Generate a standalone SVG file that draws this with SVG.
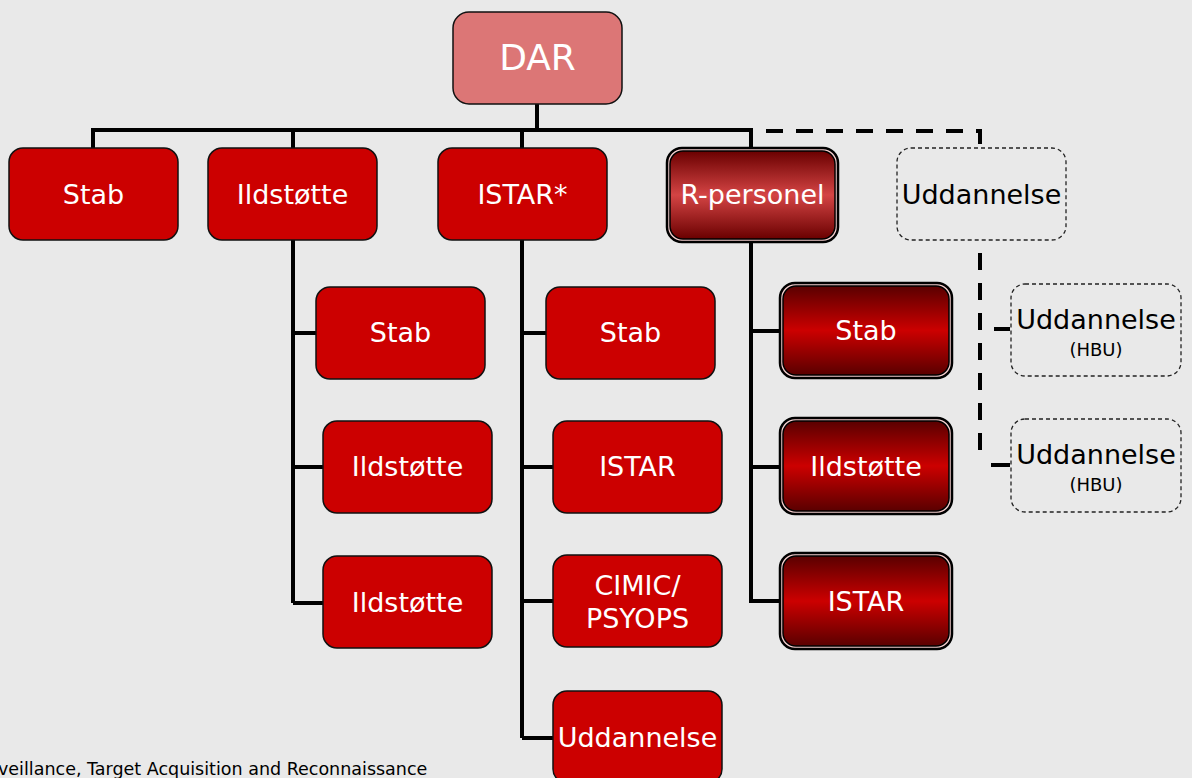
<svg xmlns="http://www.w3.org/2000/svg" width="1192" height="778" viewBox="0 0 1192 778">
<defs>
<linearGradient id="gR" x1="0" y1="0" x2="0" y2="1">
<stop offset="0" stop-color="#6a0000"/><stop offset="0.5" stop-color="#d44444"/><stop offset="1" stop-color="#6a0000"/>
</linearGradient>
<linearGradient id="gC" x1="0" y1="0" x2="0" y2="1">
<stop offset="0" stop-color="#5a0000"/><stop offset="0.5" stop-color="#cc0000"/><stop offset="1" stop-color="#5a0000"/>
</linearGradient>
</defs>
<style>
.box{fill:#cc0000;stroke:#111;stroke-width:1.5}
.dar{fill:#dc7676;stroke:#111;stroke-width:1.5}
.outer{fill:#f2cccc;stroke:#000;stroke-width:2.5}
.dash{fill:none;stroke:#222;stroke-width:1.3;stroke-dasharray:4 3}
.t{font-family:"DejaVu Sans",Verdana,sans-serif;font-size:27px;fill:#fff;text-anchor:middle}
.tk{font-family:"DejaVu Sans",Verdana,sans-serif;font-size:27px;fill:#000;text-anchor:middle}
.ts{font-family:"DejaVu Sans",Verdana,sans-serif;font-size:18px;fill:#000;text-anchor:middle}
.ln{fill:none;stroke:#000;stroke-width:4}
.dl{fill:none;stroke:#000;stroke-width:4;stroke-dasharray:17 13}
</style>
<rect width="1192" height="778" fill="#e9e9e9"/>
<g id="connectors">
<path class="ln" d="M537,104 V130 M93,130 H752 M93,128 V148 M293,128 V148 M522,128 V148 M751,128 V148"/>
<path class="ln" d="M293,240 V603 M293,333 H316 M293,467 H323 M293,603 H323"/>
<path class="ln" d="M522,240 V738 M522,333 H546 M522,467 H553 M522,601 H553 M522,738 H553"/>
<path class="ln" d="M751,240 V603 M751,331 H780 M751,467 H780 M751,601 H780"/>
<path class="dl" d="M766,131 H980 V148"/>
<path class="dl" d="M980,253 V463"/>
<path class="ln" d="M994,329 H1010 M991,465 H1010"/>
</g>
<g id="dar"><rect class="dar" x="453" y="12" width="169" height="92" rx="16"/><text class="t" x="537.5" y="70" style="font-size:36px">DAR</text></g>
<g id="stab"><rect class="box" x="9" y="148" width="169" height="92" rx="14"/><text class="t" x="93.5" y="204">Stab</text></g>
<g id="ildstotte"><rect class="box" x="208" y="148" width="169" height="92" rx="14"/><text class="t" x="292.5" y="204">Ildstøtte</text></g>
<g id="istar"><rect class="box" x="438" y="148" width="169" height="92" rx="14"/><text class="t" x="522.5" y="204">ISTAR*</text></g>
<g id="rpersonel"><rect class="outer" x="667" y="148" width="171" height="94" rx="15"/><rect x="670" y="151" width="165" height="88" rx="13" fill="url(#gR)" stroke="#000" stroke-width="1.5"/><text class="t" x="752.5" y="204">R-personel</text></g>
<g id="uddannelse"><rect class="dash" x="897" y="148" width="169" height="92" rx="14"/><text class="tk" x="981.5" y="204">Uddannelse</text></g>
<g id="ild-stab"><rect class="box" x="316" y="287" width="169" height="92" rx="14"/><text class="t" x="400.5" y="342">Stab</text></g>
<g id="ild-ild1"><rect class="box" x="323" y="421" width="169" height="92" rx="14"/><text class="t" x="407.5" y="476">Ildstøtte</text></g>
<g id="ild-ild2"><rect class="box" x="323" y="556" width="169" height="92" rx="14"/><text class="t" x="407.5" y="612">Ildstøtte</text></g>
<g id="istar-stab"><rect class="box" x="546" y="287" width="169" height="92" rx="14"/><text class="t" x="630.5" y="342">Stab</text></g>
<g id="istar-istar"><rect class="box" x="553" y="421" width="169" height="92" rx="14"/><text class="t" x="637.5" y="476">ISTAR</text></g>
<g id="istar-cimic"><rect class="box" x="553" y="555" width="169" height="92" rx="14"/><text class="t" x="637.5" y="595">CIMIC/</text><text class="t" x="637.5" y="628">PSYOPS</text></g>
<g id="istar-udd"><rect class="box" x="553" y="691" width="169" height="92" rx="14"/><text class="t" x="637.5" y="747">Uddannelse</text></g>
<g id="r-stab"><rect class="outer" x="780" y="283" width="172" height="95" rx="15"/><rect x="783" y="286" width="166" height="89" rx="13" fill="url(#gC)" stroke="#000" stroke-width="1.5"/><text class="t" x="866" y="340">Stab</text></g>
<g id="r-ild"><rect class="outer" x="780" y="418" width="172" height="96" rx="15"/><rect x="783" y="421" width="166" height="90" rx="13" fill="url(#gC)" stroke="#000" stroke-width="1.5"/><text class="t" x="866" y="476">Ildstøtte</text></g>
<g id="r-istar"><rect class="outer" x="780" y="553" width="172" height="96" rx="15"/><rect x="783" y="556" width="166" height="90" rx="13" fill="url(#gC)" stroke="#000" stroke-width="1.5"/><text class="t" x="866" y="611">ISTAR</text></g>
<g id="hbu1"><rect class="dash" x="1011" y="284" width="170" height="92" rx="14"/><text class="tk" x="1096" y="329">Uddannelse</text><text class="ts" x="1096" y="356">(HBU)</text></g>
<g id="hbu2"><rect class="dash" x="1011" y="419" width="170" height="93" rx="14"/><text class="tk" x="1096" y="464">Uddannelse</text><text class="ts" x="1096" y="491">(HBU)</text></g>
<text x="-2" y="775" style="font-family:'DejaVu Sans',Verdana,sans-serif;font-size:17.5px;fill:#000">veillance, Target Acquisition and Reconnaissance</text>
</svg>
